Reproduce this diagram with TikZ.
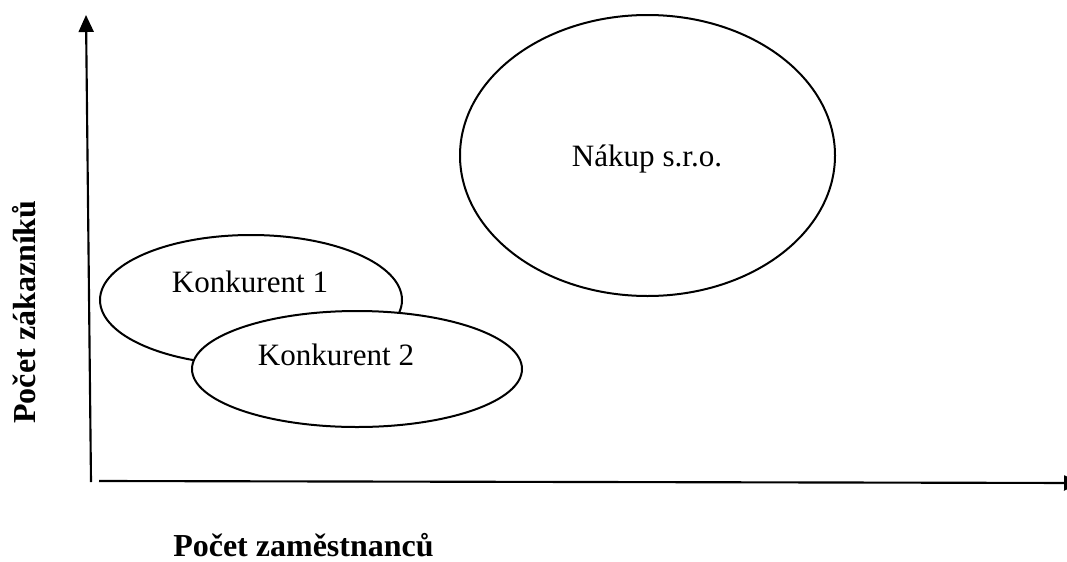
\documentclass[tikz,border=0pt]{standalone}
\usepackage{fontspec}
\setmainfont{Liberation Serif}
\usetikzlibrary{shapes.geometric,arrows.meta}
\tikzset{
  bubble/.style={draw, line width=1.5pt, ellipse, inner sep=0pt},
  axis/.style={line width=1.6pt, -{Triangle[length=12.75pt, width=11.25pt]}},
  label/.style={inner sep=0pt, anchor=base, font=\fontsize{23.3}{28}\selectfont},
  axislabel/.style={inner sep=0pt, font=\fontsize{24}{28}\selectfont\bfseries},
}
\begin{document}
\begin{tikzpicture}[x=0.75pt, y=-0.75pt]
  \useasboundingbox (0,0) rectangle (1067,561);
  \clip (0,0) rectangle (1067,561);
  % axes
  \coordinate (yb) at (91,482);
  \coordinate (yt) at (86,15);
  \coordinate (xl) at (99,481);
  \coordinate (xr) at (1081,483);
  \draw[axis] (yb) -- (yt);
  \draw[axis] (xl) -- (xr);
  % bubbles
  \node[bubble, minimum width=226.5pt, minimum height=97.5pt] (k1) at (251,300) {};
  \node[bubble, fill=white, minimum width=247.5pt, minimum height=87pt] (k2) at (357,369) {};
  \node[bubble, minimum width=281.25pt, minimum height=210.75pt] (nk) at (647.5,155.5) {};
  % bubble labels
  \node[label] (k1t) at (250,292) {Konkurent 1};
  \node[label] (k2t) at (336,365) {Konkurent 2};
  \node[label] (nkt) at (647,166) {Nákup s.r.o.};
  % axis titles
  \node[axislabel, rotate=90, anchor=base] (ylab) at (35,312) {Počet zákazníků};
  \node[axislabel, anchor=base west] (xlab) at (173,556) {Počet zaměstnanců};
\end{tikzpicture}
\end{document}
